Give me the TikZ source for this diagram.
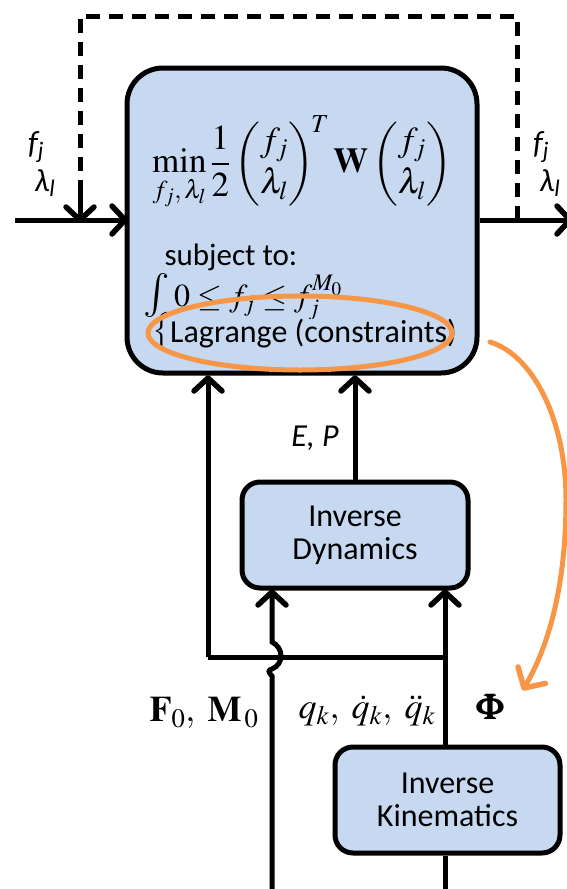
\documentclass[tikz,border=0pt]{standalone}
\usepackage{amsmath}
\usepackage{mathptmx}
\usepackage{bm}
\usepackage{fontspec}
\setmainfont{Carlito}
\usetikzlibrary{shapes.geometric}
\definecolor{boxblue}{HTML}{C6D9F1}
\definecolor{hlorange}{HTML}{F79646}
\tikzset{
  blockbox/.style={draw=black, line width=5pt, fill=boxblue, align=center,
    font=\fontsize{32}{36}\selectfont},
  wire/.style={line width=5pt},
  fb/.style={line width=5pt, dash pattern=on 14pt off 9pt},
  lbl/.style={font=\fontsize{32}{36}\selectfont\itshape, inner sep=1pt},
  mlbl/.style={font=\fontsize{36}{40}\selectfont, inner sep=1pt},
  % open chevron head, tip at the pic origin, pointing along +x before rotation
  chevron/.pic={\draw[line width=5.5pt, line cap=round, line join=round]
    (-13,-14) -- (0,0) -- (-13,14);},
  orangechevron/.pic={\draw[hlorange, line width=5.5pt, line cap=round, line join=round]
    (-15,-16) -- (0,0) -- (-15,16);},
}
\begin{document}
\begin{tikzpicture}[x=1pt,y=-1pt]
\useasboundingbox (0,0) rectangle (566,889);

% blocks
\node (opt) [blockbox, rounded corners=36pt, minimum width=350pt, minimum height=305pt] at (302,220.5) {};
\node (id) [blockbox, rounded corners=18pt, minimum width=226pt, minimum height=106pt] at (355,535) {Inverse\\[-3pt]Dynamics};
\node (ik) [blockbox, rounded corners=18pt, minimum width=225pt, minimum height=106pt] at (447.5,800) {Inverse\\[-3pt]Kinematics};

% contents of the optimisation block
\node (cost) at (302,163) {\fontsize{35}{42}\selectfont$\displaystyle
  \min_{f_j,\,\lambda_l}\frac{1}{2}\begin{pmatrix} f_j\\ \lambda_l\end{pmatrix}^{\!T}
  \mathbf{W}\begin{pmatrix} f_j\\ \lambda_l\end{pmatrix}$};
\node (subj) [anchor=west, font=\fontsize{31}{36}\selectfont] at (161,257) {subject to:};
\node (intg) [inner sep=0pt] at (157,295) {\fontsize{44}{48}\selectfont$\int$};
\node (bnd) [anchor=west, inner sep=0pt] at (174,298) {\fontsize{32}{36}\selectfont$0\le f_j\le f_j^{M_0}$};
\node (lag) [anchor=west, fill=boxblue, inner sep=1pt, font=\fontsize{32}{36}\selectfont] at (169,334) {Lagrange (constraints)};
\node (brace) [anchor=west, inner sep=0pt] at (152,331) {\fontsize{32}{36}\selectfont$\big\{$};
\node (hl) [draw=hlorange, line width=5pt, ellipse, minimum width=304pt, minimum height=74pt, inner sep=0pt] at (300,333) {};

% feedback loop (dashed)
\coordinate (inL) at (15,220);
\coordinate (outR) at (570,220);
\coordinate (fbL) at (80,220);
\coordinate (fbR) at (517,220);
\coordinate (inT) at (125,220);
\draw[fb] (fbR) -- (517,16) -- (80,16) -- (80,205);
\draw[wire] (80,190) -- (fbL);
\pic[rotate=-90] at (fbL) {chevron};

% input / output
\draw[wire] (inL) -- (inT);
\pic at (inT) {chevron};
\draw[wire] (opt.east |- outR) -- (outR);
\pic at (outR) {chevron};
\node (inf) [lbl] at (36,147) {f\textsubscript{j}};
\node (inl) [lbl] at (45,183) {λ\textsubscript{l}};
\node (outf) [lbl] at (541,147) {f\textsubscript{j}};
\node (outl) [lbl] at (550,183) {λ\textsubscript{l}};

% signals into the optimisation block
\coordinate (jn) at (208,657);
\coordinate (jr) at (445,657);
\coordinate (tipA) at (208,378);
\coordinate (tipB) at (355,378);
\draw[wire] (id.north) -- (tipB);
\pic[rotate=90] at (tipB) {chevron};
\draw[wire] (jn) -- (tipA);
\pic[rotate=90] at (tipA) {chevron};
\draw[wire] (jn) -- (jr);
\node (ep) [lbl] at (315,438) {E, P};

% signals into inverse dynamics
\coordinate (fbot) at (272,895);
\coordinate (qbot) at (445,895);
\coordinate (tipC) at (272,592);
\coordinate (tipD) at (445,592);
\draw[wire] (fbot) -- (272,676) .. controls (268,672) and (268,670) .. (272,669)
   .. controls (284,664) and (284,648) .. (272,642) -- (tipC);
\pic[rotate=90] at (tipC) {chevron};
\draw[wire] (qbot |- ik.north) -- (tipD);
\pic[rotate=90] at (tipD) {chevron};
\draw[wire] (qbot) -- (qbot |- ik.south);

% signal labels
\node (fm) [mlbl] at (204,713) {$\mathbf{F}_{0},\ \mathbf{M}_{\,0}$};
\node (qs) [mlbl] at (367,711) {$q_k,\ \dot{q}_k,\ \ddot{q}_k$};
\node (phi) [mlbl] at (490,707) {$\bm{\Phi}$};

% highlight arrow
\coordinate (hs) at (490,342);
\coordinate (he) at (524,688);
\draw[hlorange, line width=5pt, line cap=round]
  (hs) .. controls (533,355) and (566,420) .. (566,500)
       .. controls (566,590) and (547,650) .. (he);
\pic[rotate=-121] at (he) {orangechevron};
\end{tikzpicture}
\end{document}
